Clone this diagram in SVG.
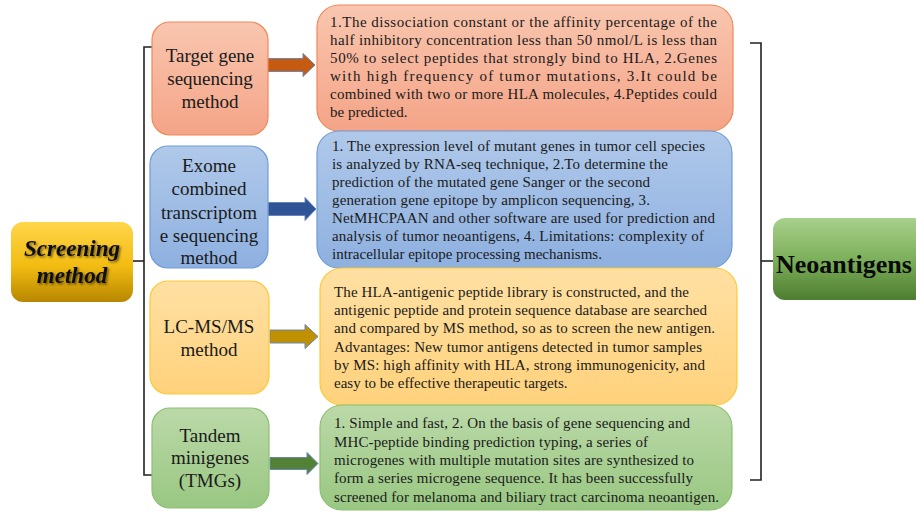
<svg xmlns="http://www.w3.org/2000/svg" width="916" height="512" viewBox="0 0 916 512">
<defs>
<linearGradient id="gOr" x1="0" y1="0" x2="0" y2="1"><stop offset="0" stop-color="#F9C6AF"/><stop offset="1" stop-color="#F4A487"/></linearGradient>
<linearGradient id="gBl" x1="0" y1="0" x2="0" y2="1"><stop offset="0" stop-color="#B0C9EA"/><stop offset="1" stop-color="#8EB0E0"/></linearGradient>
<linearGradient id="gYe" x1="0" y1="0" x2="0" y2="1"><stop offset="0" stop-color="#FFE0A3"/><stop offset="1" stop-color="#FFD27C"/></linearGradient>
<linearGradient id="gGr" x1="0" y1="0" x2="0" y2="1"><stop offset="0" stop-color="#BBD9A8"/><stop offset="1" stop-color="#99C782"/></linearGradient>
<linearGradient id="gGold" x1="0" y1="0" x2="0" y2="1"><stop offset="0" stop-color="#FFD54A"/><stop offset="0.55" stop-color="#F2BC12"/><stop offset="1" stop-color="#B88600"/></linearGradient>
<linearGradient id="gDkGr" x1="0" y1="0" x2="0" y2="1"><stop offset="0" stop-color="#A8D08D"/><stop offset="0.5" stop-color="#7DB05A"/><stop offset="1" stop-color="#4E7D30"/></linearGradient>
<filter id="sh" x="-10%" y="-20%" width="120%" height="140%"><feDropShadow dx="1.5" dy="1.5" stdDeviation="1.2" flood-color="#000" flood-opacity="0.55"/></filter>
</defs>
<style>
.lbl{font-family:"Liberation Serif","Times New Roman",serif;font-size:19px;fill:#1a1a1a;text-anchor:middle}
.txt{font-family:"Liberation Serif","Times New Roman",serif;font-size:15px;fill:#1a1a1a}
.br{fill:none;stroke:#222;stroke-width:1.6}
.arr{stroke:#6A86B8;stroke-width:1}
</style>

<g id="connectors">
<polyline class="br" points="152,47 144,47 144,475 152,475"/>
<line class="br" x1="133" y1="261" x2="144" y2="261"/>
<polyline class="br" points="750,43 761,43 761,480 750,480"/>
<line class="br" x1="761" y1="261" x2="774" y2="261"/>
<path class="arr" fill="#C55A11" d="M267,58.5 H303 V53.5 L315,65 L303,76.5 V71.5 H267 Z"/>
<path class="arr" fill="#2F5597" d="M268,202.5 H305 V197.5 L316,209 L305,220.5 V215.5 H268 Z"/>
<path class="arr" fill="#BF9000" d="M270,330 H305 V324.5 L318,336.5 L305,348.5 V343 H270 Z"/>
<path class="arr" fill="#538135" d="M270,457.5 H307 V452.5 L318,463.5 L307,474.5 V469.5 H270 Z"/>
</g>

<g id="screening">
<rect x="11" y="222" width="122" height="80" rx="12" fill="url(#gGold)"/>
<g filter="url(#sh)" style="font-family:'Liberation Serif','Times New Roman',serif;font-size:23px;font-weight:bold;font-style:italic;fill:#111;text-anchor:middle">
<text x="72" y="256">Screening</text>
<text x="72" y="283">method</text>
</g>
</g>

<g id="target-gene">
<rect x="152" y="22" width="116" height="113" rx="18" fill="url(#gOr)" stroke="#F0885A" stroke-width="1.2"/>
<text class="lbl" x="210" y="62">Target gene</text>
<text class="lbl" x="210" y="85">sequencing</text>
<text class="lbl" x="210" y="108">method</text>
</g>

<g id="exome">
<rect x="150" y="146" width="118" height="122" rx="18" fill="url(#gBl)" stroke="#6E9DD6" stroke-width="1.2"/>
<text class="lbl" x="209" y="172">Exome</text>
<text class="lbl" x="209" y="195">combined</text>
<text class="lbl" x="209" y="219">transcriptom</text>
<text class="lbl" x="209" y="242">e sequencing</text>
<text class="lbl" x="209" y="264">method</text>
</g>

<g id="lcms">
<rect x="150" y="281" width="119" height="113" rx="18" fill="url(#gYe)" stroke="#FFC934" stroke-width="1.2"/>
<text class="lbl" x="209" y="333">LC-MS/MS</text>
<text class="lbl" x="209" y="356">method</text>
</g>

<g id="tandem">
<rect x="152" y="408" width="117" height="100" rx="18" fill="url(#gGr)" stroke="#8CC071" stroke-width="1.2"/>
<text class="lbl" x="210" y="442">Tandem</text>
<text class="lbl" x="210" y="464">minigenes</text>
<text class="lbl" x="210" y="487">(TMGs)</text>
</g>

<g id="desc-target">
<rect x="317" y="5" width="416" height="126" rx="22" fill="url(#gOr)" stroke="#F0885A" stroke-width="1.2"/>
<text class="txt" x="330" y="27" textLength="387" lengthAdjust="spacing">1.The dissociation constant or the affinity percentage of the</text>
<text class="txt" x="330" y="45" textLength="387" lengthAdjust="spacing">half inhibitory concentration less than 50 nmol/L is less than</text>
<text class="txt" x="330" y="63" textLength="387" lengthAdjust="spacing">50% to select peptides that strongly bind to HLA, 2.Genes</text>
<text class="txt" x="330" y="81" textLength="387" lengthAdjust="spacing">with high frequency of tumor mutations, 3.It could be</text>
<text class="txt" x="330" y="99" textLength="387" lengthAdjust="spacing">combined with two or more HLA molecules, 4.Peptides could</text>
<text class="txt" x="330" y="117">be predicted.</text>
</g>

<g id="desc-exome">
<rect x="317" y="131" width="415" height="137" rx="22" fill="url(#gBl)" stroke="#6E9DD6" stroke-width="1.2"/>
<text class="txt" x="332" y="151" textLength="373" lengthAdjust="spacing">1. The expression level of mutant genes in tumor cell species</text>
<text class="txt" x="332" y="169" textLength="336" lengthAdjust="spacing">is analyzed by RNA-seq technique, 2.To determine the</text>
<text class="txt" x="332" y="187" textLength="318" lengthAdjust="spacing">prediction of the mutated gene Sanger or the second</text>
<text class="txt" x="332" y="205" textLength="318" lengthAdjust="spacing">generation gene epitope by amplicon sequencing, 3.</text>
<text class="txt" x="332" y="223" textLength="383" lengthAdjust="spacing">NetMHCPAAN  and other software are used for prediction and</text>
<text class="txt" x="332" y="241" textLength="372" lengthAdjust="spacing">analysis of tumor neoantigens, 4. Limitations: complexity of</text>
<text class="txt" x="332" y="259">intracellular epitope processing mechanisms.</text>
</g>

<g id="desc-lcms">
<rect x="320" y="268" width="417" height="137" rx="22" fill="url(#gYe)" stroke="#FFC934" stroke-width="1.2"/>
<text class="txt" x="334" y="297" textLength="355" lengthAdjust="spacing">The HLA-antigenic peptide library is constructed, and the</text>
<text class="txt" x="334" y="315" textLength="373" lengthAdjust="spacing">antigenic peptide and protein sequence database are searched</text>
<text class="txt" x="334" y="333" textLength="381" lengthAdjust="spacing">and compared by MS method, so as to screen the new antigen.</text>
<text class="txt" x="334" y="352" textLength="368" lengthAdjust="spacing">Advantages: New tumor antigens detected in tumor samples</text>
<text class="txt" x="334" y="370" textLength="371" lengthAdjust="spacing">by MS: high affinity with HLA, strong immunogenicity, and</text>
<text class="txt" x="334" y="388">easy to be effective therapeutic targets.</text>
</g>

<g id="desc-tandem">
<rect x="320" y="405" width="412" height="105" rx="22" fill="url(#gGr)" stroke="#8CC071" stroke-width="1.2"/>
<text class="txt" x="334" y="428" textLength="356" lengthAdjust="spacing">1. Simple and fast, 2. On the basis of gene sequencing and</text>
<text class="txt" x="334" y="447" textLength="314" lengthAdjust="spacing">MHC-peptide binding prediction typing, a series of</text>
<text class="txt" x="334" y="465" textLength="360" lengthAdjust="spacing">microgenes with multiple mutation sites are synthesized to</text>
<text class="txt" x="334" y="483" textLength="359" lengthAdjust="spacing">form a series microgene sequence. It has been successfully</text>
<text class="txt" x="334" y="502" textLength="385" lengthAdjust="spacing">screened for melanoma and biliary tract carcinoma neoantigen.</text>
</g>

<g id="neoantigens">
<rect x="773" y="218" width="152" height="82" rx="12" fill="url(#gDkGr)"/>
<text x="776" y="273" style="font-family:'Liberation Serif','Times New Roman',serif;font-size:26px;font-weight:bold;fill:#0a0a0a">Neoantigens</text>
</g>
</svg>
